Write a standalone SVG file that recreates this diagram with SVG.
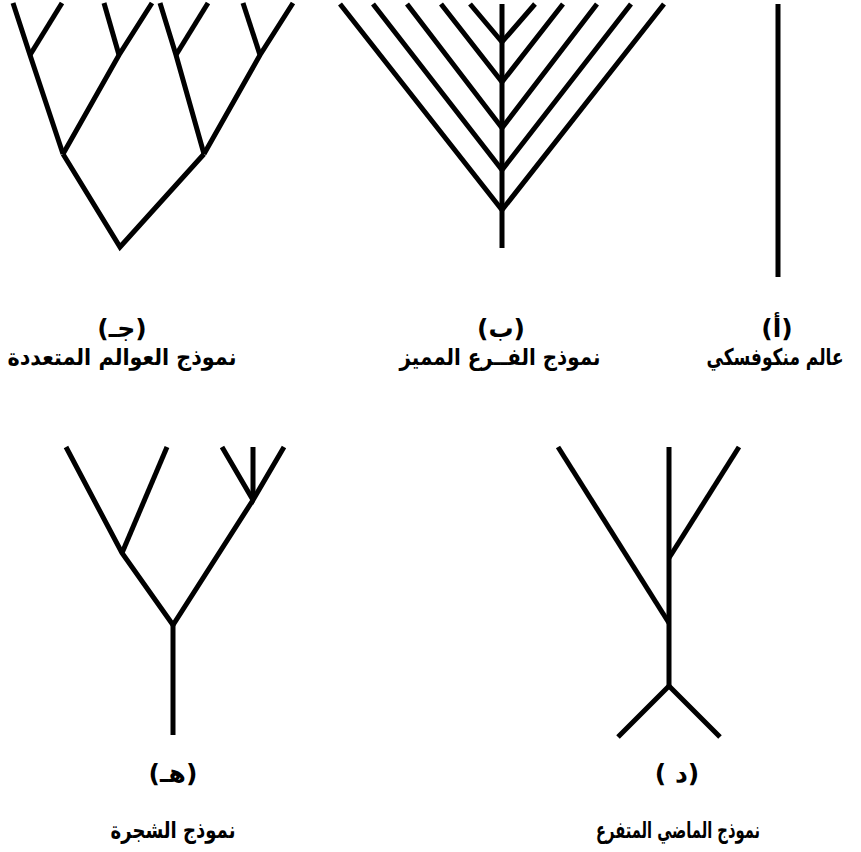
<svg xmlns="http://www.w3.org/2000/svg" width="861" height="852" viewBox="0 0 861 852">
<style>
.ln{fill:none;stroke:#000;stroke-width:5;stroke-linecap:butt;stroke-linejoin:miter}
.lbl{font-family:"DejaVu Sans",sans-serif;font-weight:bold;font-size:25px;fill:#000;text-anchor:middle}
.cap{font-family:"DejaVu Sans",sans-serif;font-weight:bold;font-size:23px;fill:#000;text-anchor:middle}
</style>
<rect width="861" height="852" fill="#fff"/>
<g id="connectors">
<g id="tree-c">
<polyline class="ln" points="63,154 120,247 204,154"/>
<polyline class="ln" points="63,154 30,55 13,3"/>
<polyline class="ln" points="30,55 62,3"/>
<polyline class="ln" points="63,154 119,55 152,3"/>
<polyline class="ln" points="119,55 104,3"/>
<polyline class="ln" points="204,154 176,55 160,3"/>
<polyline class="ln" points="176,55 208,3"/>
<polyline class="ln" points="204,154 260,55 293,3"/>
<polyline class="ln" points="260,55 243,3"/>
</g>
<g id="tree-b">
<line class="ln" x1="502" y1="4" x2="502" y2="248"/>
<polyline class="ln" points="470,4 502,42 535,4"/>
<polyline class="ln" points="441,4 502,82 563,4"/>
<polyline class="ln" points="407,4 502,128 597,4"/>
<polyline class="ln" points="373,4 502,170 631,4"/>
<polyline class="ln" points="340,4 502,210 664,4"/>
</g>
<g id="tree-a">
<line class="ln" x1="778" y1="4" x2="778" y2="277"/>
</g>
<g id="tree-h">
<line class="ln" x1="173" y1="625" x2="173" y2="735"/>
<polyline class="ln" points="66,447 122,553 173,625 253,500"/>
<polyline class="ln" points="122,553 167,447"/>
<polyline class="ln" points="222,447 253,500 284,447"/>
<line class="ln" x1="253" y1="447" x2="253" y2="500"/>
</g>
<g id="tree-d">
<line class="ln" x1="669" y1="447" x2="669" y2="686"/>
<polyline class="ln" points="558,447 669,623"/>
<polyline class="ln" points="739,447 669,558"/>
<polyline class="ln" points="618,737 669,686 720,737"/>
</g>
</g>
<g id="node-a">
<text class="lbl" x="777" y="337">(أ)</text>
<text class="cap" x="775" y="365" font-size="21" textLength="137" lengthAdjust="spacingAndGlyphs">عالم منكوفسكي</text>
</g>
<g id="node-b">
<text class="lbl" x="501" y="337">(ب)</text>
<text class="cap" x="500" y="365" textLength="201" lengthAdjust="spacingAndGlyphs">نموذج الفــرع المميز</text>
</g>
<g id="node-c">
<text class="lbl" x="122" y="337">(جـ)</text>
<text class="cap" x="122" y="365" textLength="229" lengthAdjust="spacingAndGlyphs">نموذج العوالم المتعددة</text>
</g>
<g id="node-h">
<text class="lbl" x="173" y="782">(هـ)</text>
<text class="cap" x="173" y="838" textLength="125" lengthAdjust="spacingAndGlyphs">نموذج الشجرة</text>
</g>
<g id="node-d">
<text class="lbl" x="677" y="782">( د)</text>
<text class="cap" x="678" y="838" textLength="164" lengthAdjust="spacingAndGlyphs">نموذج الماضي المتفرع</text>
</g>
</svg>
